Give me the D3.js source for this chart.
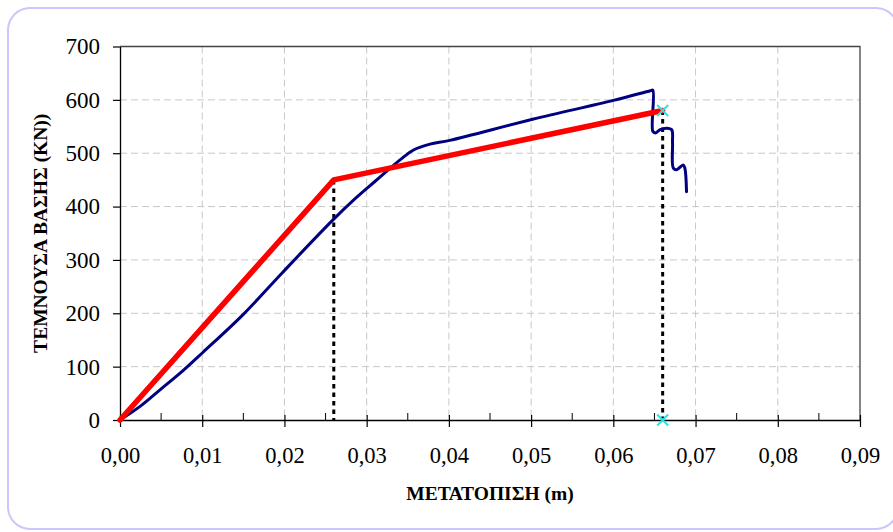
<!DOCTYPE html>
<html><head><meta charset="utf-8">
<script src="https://cdnjs.cloudflare.com/ajax/libs/d3/7.8.5/d3.min.js"></script>
<style>html,body{margin:0;padding:0;background:#fff}svg{display:block}</style>
</head><body>
<script>
// ---- data ----
const xTicks = [0,0.01,0.02,0.03,0.04,0.05,0.06,0.07,0.08,0.09];
const yTicks = [0,100,200,300,400,500,600,700];
const blueX = [0,0.0024,0.0049,0.0077,0.0101,0.015,0.0198,0.0259,0.0284,0.031,0.0341,0.0357,0.0377,0.0401,0.0503,0.060,0.0645,0.0648,0.0648,0.0651,0.0657,0.0665,0.0671,0.0672,0.0673,0.0677,0.0685,0.0687,0.0689];
const blueY = [0,25,57,93,127,198,277,375,412,447,488,506,517,524,564,599,617,618,541,538,544,547,544,520,472,469,478,472,428];
const redX = [0,0.026,0.066];
const redY = [0,450,580];
const dropX = [0.026,0.066];
const dropY = [450,580];
const markX = [0.066,0.066];
const markY = [580,0];
const xTitle = "ΜΕΤΑΤΟΠΙΣΗ (m)";
const yTitle = "ΤΕΜΝΟΥΣΑ ΒΑΣΗΣ (KN))";

const W=893,H=532;
const m={left:120,right:860,top:46.5,bottom:420};
const svg=d3.select("body").append("svg").attr("width",W).attr("height",H);
svg.append("rect").attr("width",W).attr("height",H).attr("fill","#fff");
svg.append("rect").attr("x",8).attr("y",8).attr("width",890).attr("height",521).attr("rx",22)
  .attr("fill","#fff").attr("stroke","#c8c8fa").attr("stroke-width",2);

const x=d3.scaleLinear().domain([0,0.09]).range([m.left,m.right]);
const y=d3.scaleLinear().domain([0,700]).range([m.bottom,m.top]);
const fmt=d=>d3.format(".2f")(d).replace(".",",");
const font="'Liberation Serif','Times New Roman',serif";

// grid
const g=svg.append("g");
g.selectAll(".hg").data(yTicks.filter(d=>d>0&&d<700)).join("line")
  .attr("x1",m.left).attr("x2",m.right).attr("y1",d=>y(d)).attr("y2",d=>y(d))
  .attr("stroke","#c8c8c8").attr("stroke-width",1).attr("stroke-dasharray","7,4");
g.selectAll(".vg").data(xTicks.filter(d=>d>0&&d<0.09)).join("line")
  .attr("y1",m.top).attr("y2",m.bottom).attr("x1",d=>x(d)).attr("x2",d=>x(d))
  .attr("stroke","#c8c8c8").attr("stroke-width",1).attr("stroke-dasharray","7,4");

// plot border top/right
svg.append("path").attr("d",`M${m.left},${m.top}H${m.right}V${m.bottom}`)
  .attr("fill","none").attr("stroke","#444").attr("stroke-width",1.3);

// x axis
const xa=svg.append("g").attr("transform",`translate(0,${m.bottom})`)
  .call(d3.axisBottom(x).tickValues(xTicks).tickFormat(fmt).tickSize(7).tickSizeOuter(0));
xa.select(".domain").attr("stroke","#000").attr("stroke-width",1.3);
xa.selectAll(".tick line").attr("y1",-5).attr("y2",7).attr("stroke","#000").attr("stroke-width",1.2);
xa.selectAll(".tick text").attr("font-family",font).attr("font-size",22.5).attr("fill","#000").attr("dy","1.45em");
// minor ticks
const minor=d3.range(1,18,2).map(i=>i*0.005);
svg.append("g").selectAll("line").data(minor).join("line")
  .attr("x1",d=>x(d)).attr("x2",d=>x(d)).attr("y1",m.bottom-7).attr("y2",m.bottom)
  .attr("stroke","#000").attr("stroke-width",1);

// y axis
const ya=svg.append("g").attr("transform",`translate(${m.left},0)`)
  .call(d3.axisLeft(y).tickValues(yTicks).tickSize(7).tickSizeOuter(0));
ya.select(".domain").attr("stroke","#000").attr("stroke-width",1.3);
ya.selectAll(".tick line").attr("stroke","#000").attr("stroke-width",1.2);
ya.selectAll(".tick text").attr("font-family",font).attr("font-size",23).attr("fill","#000").attr("x",-20);

// titles
svg.append("text").attr("x",(m.left+m.right)/2).attr("y",500).attr("text-anchor","middle")
  .attr("font-family",font).attr("font-weight","bold").attr("font-size",19.5).text(xTitle);
svg.append("text").attr("transform",`translate(47,${(m.top+m.bottom)/2}) rotate(-90)`).attr("text-anchor","middle")
  .attr("font-family",font).attr("font-weight","bold").attr("font-size",19.5).text(yTitle);

// dotted drop lines
dropX.forEach((d,i)=>{
  svg.append("line").attr("x1",x(d)).attr("x2",x(d)).attr("y1",y(dropY[i])).attr("y2",y(0))
    .attr("stroke","#000").attr("stroke-width",3).attr("stroke-dasharray","4.5,4");
});

const line=d3.line().x(d=>x(d[0])).y(d=>y(d[1])).curve(d3.curveCatmullRom.alpha(0.5));
const line2=d3.line().x(d=>x(d[0])).y(d=>y(d[1]));
svg.append("path").datum(blueX.map((d,i)=>[d,blueY[i]])).attr("d",line)
  .attr("fill","none").attr("stroke","#000080").attr("stroke-width",3).attr("stroke-linejoin","round").attr("stroke-linecap","round");
svg.append("path").datum(redX.map((d,i)=>[d,redY[i]])).attr("d",line2)
  .attr("fill","none").attr("stroke","#ff0000").attr("stroke-width",5.5).attr("stroke-linejoin","round").attr("stroke-linecap","round");

// markers
const s=5.5;
markX.forEach((d,i)=>{
  const cx=x(d),cy=y(markY[i]);
  svg.append("path").attr("d",`M${cx-s},${cy-s}L${cx+s},${cy+s}M${cx-s},${cy+s}L${cx+s},${cy-s}`)
    .attr("stroke","#20e8e8").attr("stroke-width",2).attr("fill","none");
});
</script>
</body></html>
